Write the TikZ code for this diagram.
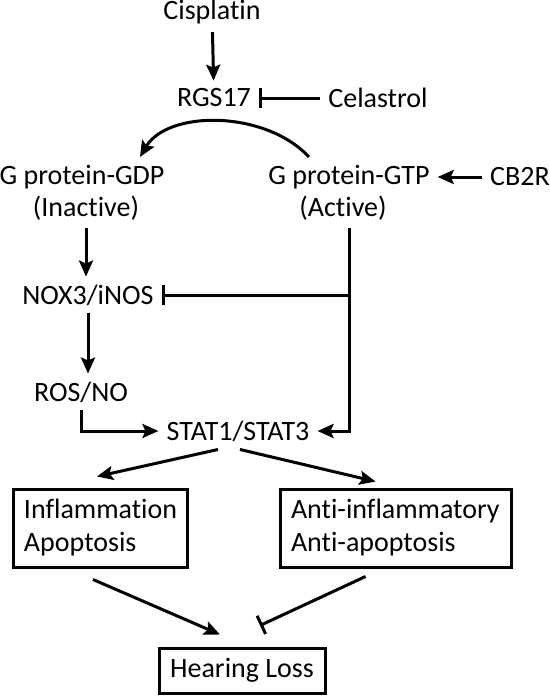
\documentclass[tikz,border=0pt]{standalone}
\usepackage{fontspec}
\setmainfont{Carlito}[Ligatures=NoCommon]
\usetikzlibrary{arrows.meta}
\tikzset{
	arr/.style={-{Stealth[length=8pt,width=7pt,inset=1.5pt]}},
	bar/.style={-{Bar[width=10pt]}},
	box/.style={draw,line width=1.5pt,align=left,inner xsep=5.5pt,minimum height=39pt}
}

\begin{document}
\begin{tikzpicture}[x=0.5pt, y=-0.5pt, line width=1.5pt, font=\fontsize{14}{16.5}\selectfont]
		\useasboundingbox (0,0) rectangle (550,696);

		% Top of the pathway
		\node (cis) at (212,12) {Cisplatin};
		\node (rgs) at (214,98) {RGS17};
		\node (cel) at (378,98) {Celastrol};

		% G proteins
		\node (gdp) at (82,177) {G protein-GDP};
		\node (inact) at (86,208) {(Inactive)};
		\node (gtp) at (349,177) {G protein-GTP};
		\node (act) at (343,208) {(Active)};
		\node (cbr) at (520,177) {CB2R};

		% Downstream
		\node (nox) at (88,295) {NOX3/iNOS};
		\node (ros) at (81,392) {ROS/NO};
		\node (stat) at (238,431) {STAT1/STAT3};

		% Outcomes
		\begin{scope}[every node/.style={box}]
			\node (infl) at (100,528) [text width=76pt] {Inflammation\\Apoptosis};
			\node (anti) at (395.5,528) [text width=104.5pt] {Anti-inflammatory\\Anti-apoptosis};
			\node (hear) at (242,670.5) [minimum height=22.5pt,minimum width=83pt] {Hearing Loss};
		\end{scope}

		% Arrows
		\begin{scope}[every edge/.style={draw,arr}]
			\path (cis) edge (rgs);
			\path (cbr) edge (gtp);
			\path ([xshift=-10pt]stat.south) edge ([xshift=-1.5pt,yshift=5.5pt]infl.north);
			\path ([xshift=1pt]stat.south) edge ([xshift=-10pt,yshift=3pt]anti.north);
			\path ([xshift=-3.5pt,yshift=-5.5pt]infl.south) edge ([xshift=-11pt,yshift=6pt]hear.north);
		\end{scope}
		\draw [arr] ([xshift=-20pt]gtp.north) .. controls +(-44,-47) and +(28,-47) .. ([xshift=29pt]gdp.north);
		\draw [arr] (inact.south) -- (inact.south |- nox.north);
		\draw [arr] (nox.south) -- (nox.south |- ros.north);
		\draw [arr] (ros.south) |- (stat.west);
		\draw [arr] (act.south -| gtp) |- (stat.east);

		% Inhibitions
		\begin{scope}[every edge/.style={draw,bar}]
			\path (cel) edge (rgs);
			\path (nox.east -| gtp) edge (nox.east);
			\path ([xshift=-15pt,yshift=-4pt]anti.south) edge ([xshift=9pt,yshift=10.5pt]hear.north);
		\end{scope}
	\end{tikzpicture}
\end{document}
